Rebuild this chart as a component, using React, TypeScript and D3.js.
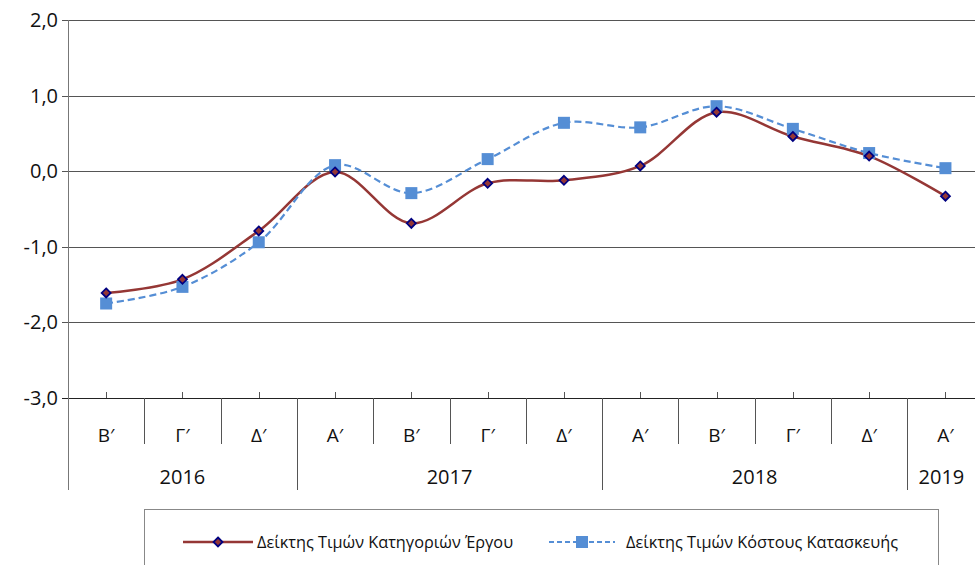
import * as d3 from "d3";

const quarters = ["Β′", "Γ′", "Δ′", "Α′", "Β′", "Γ′", "Δ′", "Α′", "Β′", "Γ′", "Δ′", "Α′"];
const years = [
  { label: "2016", from: 0, to: 2 },
  { label: "2017", from: 3, to: 6 },
  { label: "2018", from: 7, to: 10 },
  { label: "2019", from: 11, to: 11 },
];
const categoryIndex = [-1.61, -1.43, -0.79, -0.01, -0.69, -0.16, -0.12, 0.07, 0.78, 0.46, 0.2, -0.33];
const costIndex = [-1.75, -1.53, -0.94, 0.08, -0.29, 0.16, 0.64, 0.58, 0.86, 0.56, 0.24, 0.04];
const yTicks = [2, 1, 0, -1, -2, -3];
const seriesNames = ["Δείκτης Τιμών Κατηγοριών Έργου", "Δείκτης Τιμών Κόστους Κατασκευής"];

const width = 975;
const height = 565;
const marginLeft = 68;
const plotTop = 20;
const plotBottom = 398;
const font = "'Open Sans', sans-serif";
const red = "#953735";
const blue = "#558ed5";

export default function App() {
  const x = d3.scaleBand<number>()
    .domain(d3.range(quarters.length))
    .range([marginLeft, marginLeft + 12 * 76.3]);
  const y = d3.scaleLinear().domain([-3, 2]).range([plotBottom, plotTop]);
  const cx = (i: number) => (x(i) as number) + x.bandwidth() / 2;

  const line = d3.line<number>()
    .x((_, i) => cx(i))
    .y(d => y(d))
    .curve(d3.curveCatmullRom.alpha(0.5));

  const fmt = (v: number) => d3.format(".1f")(v).replace(".", ",").replace("−", "-");
  const diamond = (px: number, py: number, r: number) =>
    `M${px},${py - r}L${px + r},${py}L${px},${py + r}L${px - r},${py}Z`;

  return (
    <svg width={width} height={height} style={{ position: "absolute", left: 0, top: 0 }} fontFamily={font}>
      <rect width={width} height={height} fill="#fff" />

      {/* grid + y axis */}
      {yTicks.map(t => (
        <g key={t}>
          <line x1={marginLeft - 6} x2={width} y1={Math.round(y(t)) + 0.5} y2={Math.round(y(t)) + 0.5}
            stroke={t === -3 ? "#222" : "#555"} strokeWidth={1} />
          <text x={58} y={y(t)} dy="0.35em" textAnchor="end" fontSize={20} fill="#111">{fmt(t)}</text>
        </g>
      ))}
      <line x1={marginLeft + 0.5} x2={marginLeft + 0.5} y1={plotTop} y2={490} stroke="#777" />

      {/* x axis ticks, separators, labels */}
      {quarters.map((q, i) => (
        <g key={i}>
          <line x1={Math.round(cx(i)) + 0.5} x2={Math.round(cx(i)) + 0.5} y1={plotBottom - 6} y2={plotBottom} stroke="#555" />
          {i > 0 && (
            <line x1={Math.round(x(i) as number) + 0.5} x2={Math.round(x(i) as number) + 0.5} y1={plotBottom}
              y2={years.some(yr => yr.from === i) ? 490 : 444} stroke="#555" />
          )}
          <text x={cx(i)} y={435} dy="0.35em" textAnchor="middle" fontSize={19} fill="#111">{q}</text>
        </g>
      ))}
      {years.map(yr => (
        <text key={yr.label} x={(cx(yr.from) + cx(yr.to)) / 2 - (yr.from === 11 ? 4 : 0)} y={477} dy="0.35em"
          textAnchor="middle" fontSize={20} fill="#111">{yr.label}</text>
      ))}

      {/* series */}
      <path d={line(categoryIndex) ?? ""} fill="none" stroke={red} strokeWidth={2.5} />
      <path d={line(costIndex) ?? ""} fill="none" stroke={blue} strokeWidth={2.2} strokeDasharray="7,4" />
      {costIndex.map((v, i) => (
        <rect key={i} x={cx(i) - 6} y={y(v) - 6} width={12} height={12} fill={blue} />
      ))}
      {categoryIndex.map((v, i) => (
        <path key={i} d={diamond(cx(i), y(v), 4.5)} fill={red} stroke="#000080" strokeWidth={1.8} />
      ))}

      {/* legend */}
      <rect x={144.5} y={509.5} width={794} height={70} fill="#fff" stroke="#888" />
      <line x1={183} x2={253} y1={542} y2={542} stroke={red} strokeWidth={2.5} />
      <path d={diamond(218, 542, 4.5)} fill={red} stroke="#000080" strokeWidth={1.8} />
      <text x={257} y={542} dy="0.35em" fontSize={16.3} fill="#111">{seriesNames[0]}</text>
      <line x1={549} x2={615} y1={542} y2={542} stroke={blue} strokeWidth={2.2} strokeDasharray="5,3" />
      <rect x={576} y={536} width={12} height={12} fill={blue} />
      <text x={626} y={542} dy="0.35em" fontSize={16.3} fill="#111">{seriesNames[1]}</text>
    </svg>
  );
}
